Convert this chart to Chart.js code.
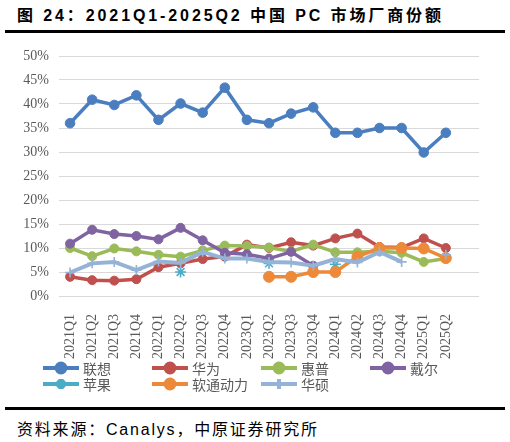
<!DOCTYPE html>
<html>
<head>
<meta charset="utf-8">
<script src="https://cdn.jsdelivr.net/npm/chart.js@4/dist/chart.umd.min.js"></script>
<style>
  body { margin: 0; background: #fff; }
  #wrap { position: relative; width: 510px; height: 442px; overflow: hidden; }
  #title {
    position: absolute; left: 17px; top: 2px;
    font: bold 16px "Liberation Sans", "Noto Sans CJK SC", sans-serif;
    letter-spacing: 2.9px; color: #000; white-space: nowrap;
  }
  .rule { position: absolute; left: 5px; width: 500px; background: #000; }
  #source {
    position: absolute; left: 17px; top: 416px;
    font: 16px "Liberation Sans", "Noto Sans CJK SC", sans-serif;
    letter-spacing: 1.8px; color: #000; white-space: nowrap;
  }
  #chartBox { position: absolute; left: 0; top: 35px; width: 510px; height: 370px; }
  #fontProbe { position: absolute; left: -999px; top: 0; font: 14px "Liberation Serif"; }
</style>
</head>
<body>
<div id="wrap">
  <div id="title">图 24：2021Q1-2025Q2 中国 PC 市场厂商份额</div>
  <div class="rule" style="top:30px;height:3px"></div>
  <div id="chartBox"><canvas id="shareChart"></canvas></div>
  <div class="rule" style="top:407px;height:2.5px"></div>
  <div id="source">资料来源：Canalys，中原证券研究所</div>
  <span id="fontProbe">2021Q1 50%</span>
</div>
<script>
const quarters = ['2021Q1', '2021Q2', '2021Q3', '2021Q4', '2022Q1', '2022Q2', '2022Q3', '2022Q4',
  '2023Q1', '2023Q2', '2023Q3', '2023Q4', '2024Q1', '2024Q2', '2024Q3', '2024Q4', '2025Q1', '2025Q2'];
const yTicks = [0, 5, 10, 15, 20, 25, 30, 35, 40, 45, 50];

const lenovo = [36.0, 40.9, 39.8, 41.8, 36.7, 40.1, 38.2, 43.4, 36.7, 36.0, 38.0, 39.3, 34.0, 34.0, 35.0, 35.0, 29.9, 34.0];
const huawei = [4.0, 3.3, 3.2, 3.5, 6.0, 6.8, 7.7, 8.2, 10.7, 10.0, 11.2, 10.5, 12.0, 13.0, 10.2, 10.1, 12.0, 10.0];
const hp = [10.0, 8.3, 9.9, 9.3, 8.6, 8.2, 9.5, 10.5, 10.4, 10.1, 9.3, 10.7, 9.1, 9.1, 9.3, 9.0, 7.1, 7.8];
const dell = [10.9, 13.8, 12.9, 12.5, 11.8, 14.2, 11.6, 9.0, 8.7, 7.8, 9.2, 6.3, null, null, null, null, null, null];
const apple = [null, null, null, null, null, 5.0, null, null, null, 6.8, null, null, 6.6, null, null, null, null, null];
const isoftstone = [null, null, null, null, null, null, null, null, null, 4.0, 4.0, 5.0, 5.0, 8.2, 10.0, 10.0, 9.9, 7.9];
const asus = [4.9, 6.8, 7.1, 5.4, 7.2, 6.9, 9.2, 7.8, 7.8, 7.1, 7.0, 6.3, 7.7, 7.0, 9.2, 7.1, null, 8.6];

const seriesNames = ['联想', '华为', '惠普', '戴尔', '苹果', '软通动力', '华硕'];
const seriesValues = [lenovo, huawei, hp, dell, apple, isoftstone, asus];
const seriesColors = ['#4A7EBF', '#C0504D', '#9BBB59', '#8064A2', '#4BACC6', '#EC8A3A', '#95B3D7'];
const seriesPoints = ['circle', 'circle', 'circle', 'circle', 'star', 'circle', 'cross'];
const pointSizes = [4.8, 4.5, 4.5, 4.5, 5.5, 5.5, 5];

Chart.defaults.font.family = '"Liberation Serif", serif';

const tickFont = { family: '"Liberation Serif", serif', size: 14 };

const datasets = seriesNames.map((name, i) => ({
  label: name,
  data: seriesValues[i].map((v, k) => ({ x: k, y: v })),
  borderColor: seriesColors[i],
  backgroundColor: seriesColors[i],
  borderWidth: i === 6 ? 4 : 3.5,
  pointStyle: seriesPoints[i],
  pointRadius: pointSizes[i],
  pointBorderWidth: seriesPoints[i] === 'circle' ? 1 : 1.6,
  pointBorderColor: seriesColors[i],
  pointBackgroundColor: seriesColors[i],
  tension: 0,
  spanGaps: false,
  order: seriesNames.length - i
}));

// legend drawn in two rows of four, line with marker
const legendPlugin = {
  id: 'lineLegend',
  afterDraw(chart) {
    const ctx = chart.ctx;
    ctx.save();
    chart.data.datasets.forEach((ds, i) => {
      const x0 = 43 + (i % 4) * 109;
      const y = 333 + Math.floor(i / 4) * 16;
      ctx.strokeStyle = ds.borderColor;
      ctx.lineWidth = 4;
      ctx.beginPath();
      ctx.moveTo(x0, y);
      ctx.lineTo(x0 + 36, y);
      ctx.stroke();
      ctx.fillStyle = ds.backgroundColor;
      ctx.strokeStyle = ds.borderColor;
      Chart.helpers.drawPoint(ctx, {
        pointStyle: ds.pointStyle,
        radius: ds.pointStyle === 'circle' ? 4.5 : 5,
        borderWidth: ds.pointBorderWidth,
        rotation: 0
      }, x0 + 18, y);
      ctx.fillStyle = '#595959';
      ctx.font = '14px "Noto Sans CJK SC"';
      ctx.textBaseline = 'middle';
      ctx.textAlign = 'left';
      ctx.fillText(ds.label, x0 + 40, y + 1);
    });
    ctx.restore();
  }
};

function drawChart() {
  new Chart(document.getElementById('shareChart'), {
    type: 'line',
    data: { datasets },
    plugins: [legendPlugin],
    options: {
      responsive: true,
      maintainAspectRatio: false,
      animation: false,
      layout: { padding: { top: 21, right: 31, left: 0, bottom: 0 } },
      plugins: { legend: { display: false }, tooltip: { enabled: false } },
      scales: {
        x: {
          type: 'linear',
          min: -0.5,
          max: 18.5,
          afterBuildTicks: scale => { scale.ticks = quarters.map((q, i) => ({ value: i })); },
          afterFit: scale => { scale.height = 109; },
          grid: { display: false },
          border: { display: false },
          ticks: {
            autoSkip: false,
            minRotation: 90,
            maxRotation: 90,
            padding: 10,
            color: '#595959',
            font: tickFont,
            callback: v => quarters[v]
          }
        },
        y: {
          min: 0,
          max: 50,
          afterBuildTicks: scale => { scale.ticks = yTicks.map(v => ({ value: v })); },
          afterFit: scale => { scale.width = 59; },
          grid: { color: '#D9D9D9', lineWidth: 1, drawTicks: false },
          border: { display: false },
          ticks: {
            padding: 10,
            color: '#595959',
            font: tickFont,
            callback: v => v + '%'
          }
        }
      }
    }
  });
}

document.fonts.load('14px "Liberation Serif"').then(drawChart, drawChart);
</script>
</body>
</html>
